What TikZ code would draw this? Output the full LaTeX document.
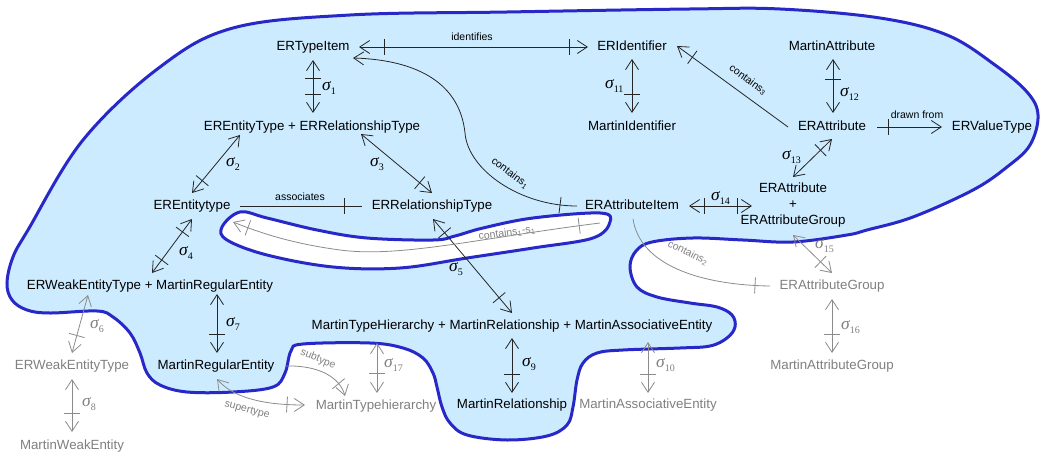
\documentclass[tikz,border=0pt]{standalone}
\usepackage{fontspec}
\setmainfont{Liberation Sans}
\newfontfamily\sigfont{Liberation Serif}
\usetikzlibrary{arrows.meta,calc,decorations.markings}
\definecolor{blobfill}{RGB}{204,235,255}
\definecolor{blobline}{RGB}{40,40,200}
% sigma with an upright subscript
\newcommand\sigm[1]{{\sigfont\fontsize{17.5}{17.5}\selectfont\itshape σ}\raisebox{-3.5pt}{\sigfont\fontsize{10}{10}\selectfont #1}}
\tikzset{
  nd/.style={font=\fontsize{13.3}{16}\selectfont, inner sep=0pt, text height=9.5pt, text depth=2.8pt},
  gnd/.style={nd, text=black!50},
  multi/.style={font=\fontsize{13.3}{16}\selectfont, inner sep=0pt, align=center},
  lbl/.style={font=\fontsize{10.5}{12}\selectfont, inner sep=0pt},
  glbl/.style={lbl, text=black!50},
  sg/.style={anchor=west, inner sep=0pt},
  gsg/.style={sg, text=black!50},
  ed/.style={line width=0.8pt, draw=black!85},
  ged/.style={line width=0.8pt, draw=black!45},
  tk/.style={postaction={decorate,decoration={markings,
      mark=at position #1 with {\draw[-] (0,-8pt)--(0,8pt);}}}},
}
\begin{document}
\begin{tikzpicture}[x=1pt,y=-1pt,>={Straight Barb[length=10pt,width=13pt]}]
\useasboundingbox (0,0) rectangle (1040,454);
\fill[white] (0,0) rectangle (1040,454);

% the shaded region and its hole
\path[fill=blobfill, draw=blobline, line width=3pt]
  plot[smooth cycle, tension=0.6] coordinates {
  (28,230) (83,140) (160,67) (233,28) (350,15) (507,12) (690,9) (780,9)
  (880,18) (947,35) (995,65) (1027,92) (1038,115) (1030,145) (1007,167)
  (973,190) (913,217) (867,230) (847,235) (793,242) (743,240) (693,238)
  (652,242) (636,251) (630,267) (637,287) (657,297) (690,303) (717,307)
  (732,315) (735,327) (727,338) (710,346) (680,348) (623,350) (597,353)
  (583,363) (577,380) (573,407) (567,425) (547,436) (507,440) (467,435)
  (450,423) (442,407) (437,387) (433,373) (423,358) (403,348) (370,343)
  (303,344) (291,351) (285,373) (273,387) (233,392) (187,392) (160,385)
  (147,373) (140,353) (130,333) (113,317) (97,311) (50,313) (27,310)
  (12,300) (7,283) (13,257)};
\path[fill=white, draw=blobline, line width=3pt]
  plot[smooth cycle, tension=0.6] coordinates {
  (222,227) (240,212) (267,218) (317,230) (367,238) (433,240) (455,236)
  (483,228) (533,218) (600,213) (610,222) (593,238) (533,248) (467,258)
  (400,268) (333,267) (267,255) (227,240)};

% nodes
\node[nd] (ti) at (313,47) {ERTypeItem};
\node[nd] (ee) at (312,127) {EREntityType + ERRelationshipType};
\node[nd] (et) at (192,206) {EREntitytype};
\node[nd] (rt) at (432,206) {ERRelationshipType};
\node[nd] (we) at (150,286) {ERWeakEntityType + MartinRegularEntity};
\node[gnd] (wg) at (72,366) {ERWeakEntityType};
\node[gnd] (mw) at (72,446) {MartinWeakEntity};
\node[nd] (mr) at (216,366) {MartinRegularEntity};
\node[gnd] (mth) at (376,406) {MartinTypehierarchy};
\node[nd] (mm) at (512,326) {MartinTypeHierarchy + MartinRelationship + MartinAssociativeEntity};
\node[nd] (mrel) at (512,405) {MartinRelationship};
\node[gnd] (mae) at (648,405) {MartinAssociativeEntity};
\node[nd] (id) at (632,47) {ERIdentifier};
\node[nd] (mi) at (632,127) {MartinIdentifier};
\node[nd] (ai) at (632,206) {ERAttributeItem};
\node[nd] (ma) at (832,47) {MartinAttribute};
\node[nd] (at) at (832,127) {ERAttribute};
\node[nd] (vt) at (992,127) {ERValueType};
\node[multi] (ag) at (793,205) {ERAttribute\\+\\ERAttributeGroup};
\node[gnd] (agg) at (832,286) {ERAttributeGroup};
\node[gnd] (mag) at (832,366) {MartinAttributeGroup};

% sigma connectors
\draw[ed,<->,tk=18pt,tk=34pt] ($(ti)+(0,13)$) -- ($(ee)+(1,-14)$);
\draw[ed,<->,tk=-16pt] ($(ee)+(-72,8)$) -- ($(et)+(0,-13)$);
\draw[ed,<->,tk=-16pt] ($(ee)+(49,7)$) -- ($(rt)+(0,-13)$);
\draw[ed,<->,tk=16pt,tk=51pt] ($(et)+(0,13)$) -- ($(we)+(2,-13)$);
\draw[ed,<->,tk=18pt,tk=-20pt] ($(rt)+(1,13)$) -- ($(mm)+(0,-13)$);
\draw[ged,<->,tk=42pt] ($(we)+(-62,9)$) -- ($(wg)+(0,-13)$);
\draw[ed,<->,tk=40pt] ($(we)+(67,8)$) -- ($(mr)+(1,-13)$);
\draw[ged,<->,tk=34pt] ($(wg)+(0,13)$) -- ($(mw)+(0,-14)$);
\draw[ed,<->,tk=36pt] ($(mm)+(0,12)$) -- ($(mrel)+(0,-12)$);
\draw[ged,<->,tk=32pt] ($(mm)+(136,16)$) -- ($(mae)+(0,-12)$);
\draw[ed,<->,tk=35pt] ($(id)+(0,12)$) -- ($(mi)+(0,-14)$);
\draw[ed,<->,tk=20pt] ($(ma)+(1,12)$) -- ($(at)+(1,-14)$);
\draw[ed,<->,tk=16pt] ($(at)+(0,12)$) -- ($(ag)+(0,-28)$);
\draw[ed,<->,tk=15pt,tk=48pt] ($(ai)+(57,0)$) -- ($(ag)+(-41,1)$);
\draw[ged,<->,tk=-16pt] ($(ag)+(0,30)$) -- ($(agg)+(0,-13)$);
\draw[ged,<->,tk=35pt] ($(agg)+(0,13)$) -- ($(mag)+(0,-13)$);
\draw[ged,<->,tk=30pt] ($(mm)+(-135,17)$) -- ($(mth)+(1,-13)$);

% named relationships
\draw[ed,<->,tk=25pt,tk=-19pt] ($(ti)+(46,0)$) -- ($(id)+(-44,0)$);
\draw[ed,tk=-18pt] ($(et)+(48,0)$) -- ($(rt)+(-70,0)$);
\draw[ed,->,tk=11pt] ($(at)+(45,0)$) -- ($(vt)+(-50,0)$);
\draw[ed,->,tk=-19pt] ($(at)+(-44,0)$) -- ($(id)+(45,-1)$);
\draw[ed,->,tk=17pt] ($(ai)+(-55,0)$) .. controls (520,206) and (468,170) .. (465,133)
  .. controls (460,85) and (420,60) .. ($(ti)+(40,11)$);
\draw[ged,->,tk=21pt,tk=-16pt] ($(ai)+(-32,17)$) .. controls (480,238) and (400,258) .. (340,250)
  .. controls (290,243.3) and (258,232) .. ($(et)+(41,16)$);
\draw[ged,tk=-15pt] ($(ai)+(1,13)$) .. controls (640,265) and (700,285) .. ($(agg)+(-62,0)$);
\draw[ged,->,tk=-14pt] ($(mr)+(69,0)$) .. controls (320,365) and (340,378) .. ($(mth)+(-31,-10)$);
\draw[ged,<->,tk=-18pt] ($(mr)+(1,13)$) .. controls (235,400) and (270,405) .. ($(mth)+(-71,-1)$);

% connector labels
\node[lbl] (lid) at (472,37) {identifies};
\node[lbl] (las) at (300,197) {associates};
\node[lbl] (ldf) at (917,115) {drawn from};
\node[lbl,rotate=-37] (lc1) at (510,173) {contains\textsubscript{1}};
\node[lbl,rotate=-36] (lc3) at (748,80) {contains\textsubscript{3}};
\node[glbl,rotate=-26] (lc2) at (688,253) {contains\textsubscript{2}};
\node[glbl,rotate=8] (lcs) at (507,233) {contains\textsubscript{1}-s\textsubscript{1}};
\node[glbl,rotate=-22] (lsub) at (318,359) {subtype};
\node[glbl,rotate=-15] (lsup) at (247,410) {supertype};

% sigma labels
\node[sg] (s1) at (322,88) {\sigm{1}};
\node[sg] (s2) at (226,164) {\sigm{2}};
\node[sg] (s3) at (370,164) {\sigm{3}};
\node[sg] (s4) at (179,253) {\sigm{4}};
\node[sg] (s5) at (449,269) {\sigm{5}};
\node[gsg] (s6) at (90,326) {\sigm{6}};
\node[sg] (s7) at (226,324) {\sigm{7}};
\node[gsg] (s8) at (82,404) {\sigm{8}};
\node[sg] (s9) at (522,364) {\sigm{9}};
\node[gsg] (s10) at (656,365) {\sigm{10}};
\node[sg] (s11) at (605,86) {\sigm{11}};
\node[sg] (s12) at (840,94) {\sigm{12}};
\node[sg] (s13) at (782,157) {\sigm{13}};
\node[sg] (s14) at (711,198) {\sigm{14}};
\node[gsg] (s15) at (815,246) {\sigm{15}};
\node[gsg] (s16) at (841,327) {\sigm{16}};
\node[gsg] (s17) at (384,365) {\sigm{17}};
\end{tikzpicture}
\end{document}
